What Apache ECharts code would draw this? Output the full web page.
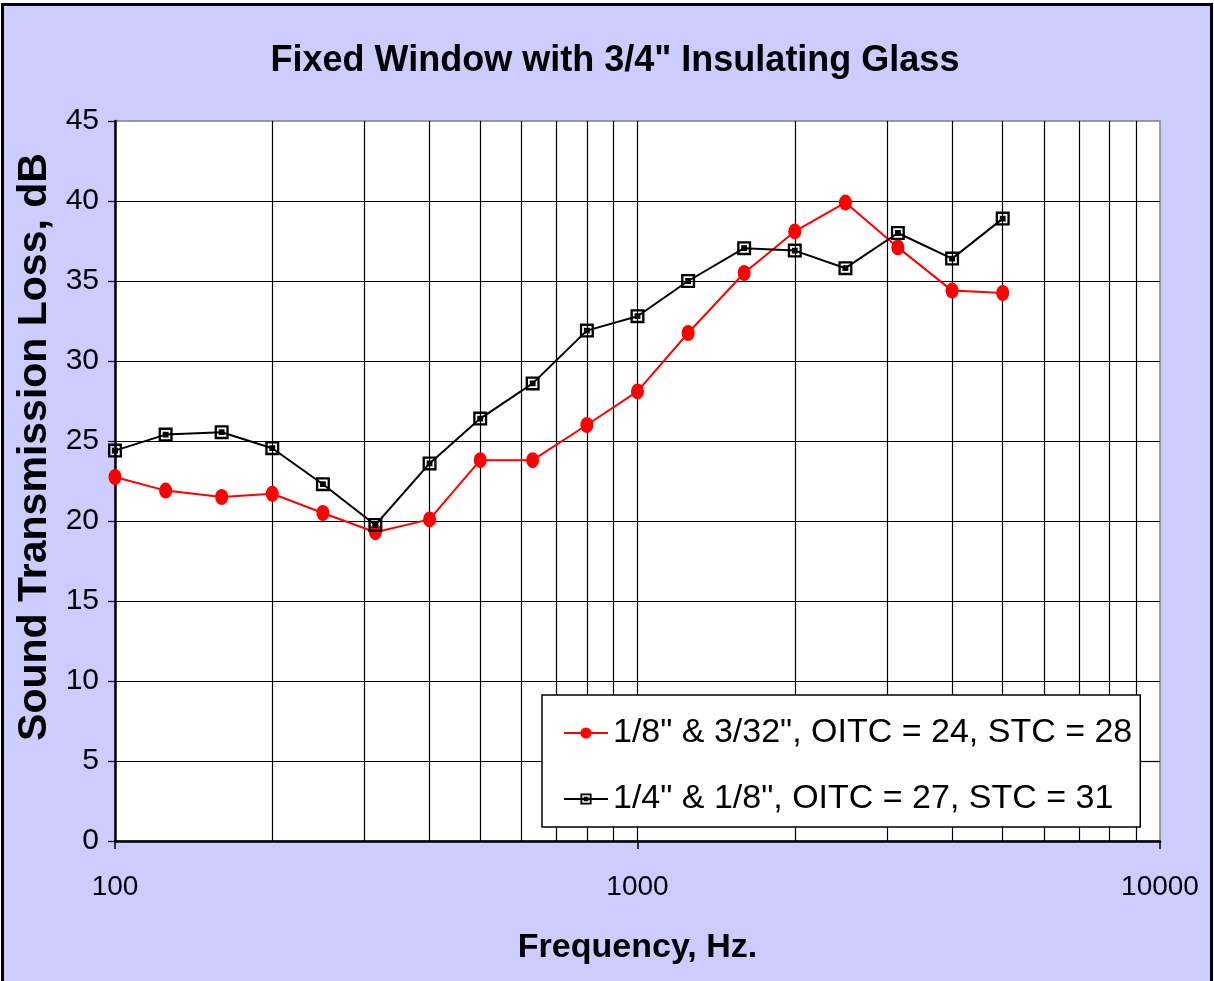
<!DOCTYPE html>
<html>
<head>
<meta charset="utf-8">
<script src="https://cdn.jsdelivr.net/npm/echarts@6/dist/echarts.min.js"></script>
<style>
  html, body { margin: 0; padding: 0; background: #fff; overflow: hidden; }
  #main { position: absolute; left: 1px; top: 3px; width: 1212px; height: 1000px;
          border: 3px solid #000; box-sizing: border-box; }
</style>
</head>
<body>
<div id="main"></div>
<script>
// 1/3 倍频程中心频率
var freqs = [100, 125, 160, 200, 250, 315, 400, 500, 630, 800, 1000, 1250, 1600, 2000, 2500, 3150, 4000, 5000];
// 1/8" & 3/32"
var stlA = [22.75, 21.9, 21.5, 21.7, 20.5, 19.3, 20.1, 23.8, 23.8, 26.0, 28.1, 31.75, 35.5, 38.1, 39.9, 37.1, 34.4, 34.25];
// 1/4" & 1/8"
var stlB = [24.4, 25.4, 25.55, 24.55, 22.3, 19.75, 23.6, 26.4, 28.6, 31.9, 32.8, 35.0, 37.05, 36.9, 35.8, 38.0, 36.4, 38.9];
var seriesNames = ['1/8" & 3/32", OITC = 24, STC = 28', '1/4" & 1/8", OITC = 27, STC = 31'];
// 网格线（竖线为对数刻度 200..9000，横线每 5 dB）
var gridFreqs = [200, 300, 400, 500, 600, 700, 800, 900, 1000, 2000, 3000, 4000, 5000, 6000, 7000, 8000, 9000];
var gridLevels = [5, 10, 15, 20, 25, 30, 35, 40];

// 图例框挡住的范围（数据坐标），网格线在此处断开
var boxFreqLo = 656, boxFreqHi = 9000, boxLevelLo = 0.875, boxLevelHi = 9.125;

function pairs(xs, ys) {
    return xs.map(function (x, i) { return [x, ys[i]]; });
}

function seg(x1, y1, x2, y2) {
    return [{ coord: [x1, y1] }, { coord: [x2, y2] }];
}

var gridSegs = [];
gridFreqs.forEach(function (f) {
    if (f > boxFreqLo && f < boxFreqHi) {
        gridSegs.push(seg(f, 0, f, boxLevelLo));
        gridSegs.push(seg(f, boxLevelHi, f, 45));
    } else {
        gridSegs.push(seg(f, 0, f, 45));
    }
});
gridLevels.forEach(function (v) {
    if (v > boxLevelLo && v < boxLevelHi) {
        gridSegs.push(seg(100, v, boxFreqLo, v));
        gridSegs.push(seg(boxFreqHi, v, 10000, v));
    } else {
        gridSegs.push(seg(100, v, 10000, v));
    }
});

var myChart = echarts.init(document.getElementById('main'));

var squareMark = 'path://M0,0L12,0L12,12L0,12Z M2,2L2,10L10,10L10,2Z M3.5,3.5L8.5,3.5L8.5,8.5L3.5,8.5Z';
var sans = '"Liberation Sans", Arial, sans-serif';

var option = {
    backgroundColor: '#ccccff',
    animation: false,
    title: {
        text: 'Fixed Window with 3/4" Insulating Glass',
        left: 611,
        top: 37,
        textAlign: 'center',
        padding: 0,
        textStyle: {
            fontFamily: sans,
            fontWeight: 'bold',
            fontSize: 36,
            color: '#000'
        }
    },
    legend: {
        orient: 'vertical',
        left: 538,
        top: 689,
        z: 50,
        padding: [18, 8, 8, 21],
        itemWidth: 44,
        itemHeight: 14,
        itemGap: 26,
        backgroundColor: '#fff',
        borderColor: '#000',
        borderWidth: 1.5,
        textStyle: {
            fontFamily: sans,
            fontSize: 34,
            lineHeight: 40,
            color: '#000'
        },
        data: seriesNames
    },
    grid: {
        left: 111,
        top: 115,
        width: 1045,
        height: 720,
        show: true,
        backgroundColor: '#fff',
        borderColor: '#808080',
        borderWidth: 1.5
    },
    xAxis: {
        type: 'log',
        logBase: 10,
        min: 100,
        max: 10000,
        name: 'Frequency, Hz.',
        nameLocation: 'middle',
        nameGap: 90,
        nameTextStyle: {
            fontFamily: sans,
            fontWeight: 'bold',
            fontSize: 34,
            color: '#000'
        },
        axisLine: { lineStyle: { color: '#000', width: 2.5 } },
        axisTick: { show: true, inside: false, length: 8, lineStyle: { color: '#000', width: 1.5 } },
        axisLabel: {
            margin: 32,
            fontFamily: sans,
            fontSize: 28,
            color: '#000',
            formatter: function (v) { return String(Math.round(v)); }
        },
        splitLine: { show: false }
    },
    yAxis: {
        type: 'value',
        min: 0,
        max: 45,
        interval: 5,
        name: 'Sound Transmission Loss, dB',
        nameLocation: 'middle',
        nameRotate: 90,
        nameGap: 60,
        nameTextStyle: {
            fontFamily: sans,
            fontWeight: 'bold',
            fontSize: 41,
            color: '#000',
            padding: [0, 0, 0, 68]
        },
        axisLine: { show: true, lineStyle: { color: '#000', width: 2.5 } },
        axisTick: { show: true, inside: false, length: 7, lineStyle: { color: '#000', width: 1.2 } },
        axisLabel: {
            margin: 16,
            fontFamily: sans,
            fontSize: 30,
            color: '#000'
        },
        splitLine: { show: false }
    },
    series: [
        {
            name: seriesNames[0],
            type: 'line',
            z: 3,
            data: pairs(freqs, stlA),
            symbol: 'circle',
            symbolSize: [13, 16],
            lineStyle: { color: '#ff0000', width: 2 },
            itemStyle: { color: '#ff0000' },
            markLine: {
                silent: true,
                z: 1,
                symbol: ['none', 'none'],
                label: { show: false },
                emphasis: { disabled: true },
                lineStyle: { color: '#000', width: 1.2, type: 'solid' },
                data: gridSegs
            }
        },
        {
            name: seriesNames[1],
            type: 'line',
            z: 3,
            data: pairs(freqs, stlB),
            symbol: squareMark,
            symbolSize: 14,
            lineStyle: { color: '#000', width: 2 },
            itemStyle: { color: '#000' }
        }
    ]
};

myChart.setOption(option);
window.onresize = myChart.resize;
</script>
</body>
</html>
